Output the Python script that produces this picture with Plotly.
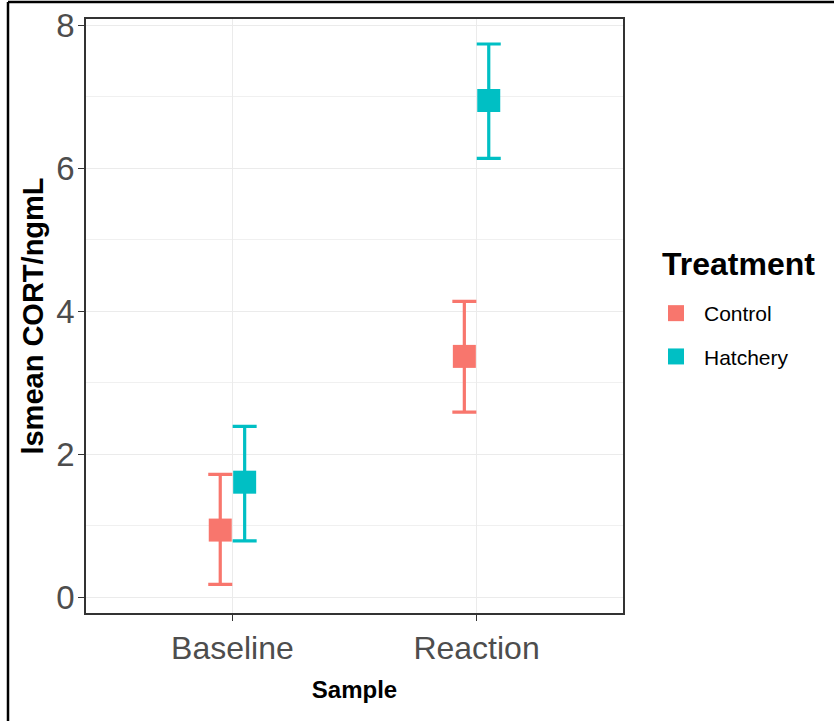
import plotly.graph_objects as go

# Data
samples = ["Baseline", "Reaction"]
treatments = ["Control", "Hatchery"]
lsmean_control = [0.94, 3.37]
lsmean_hatchery = [1.61, 6.95]
upper_control = [1.72, 4.14]
lower_control = [0.18, 2.59]
upper_hatchery = [2.39, 7.74]
lower_hatchery = [0.79, 6.14]
y_ticks = [0, 2, 4, 6, 8]

colors = {"Control": "#F8766D", "Hatchery": "#00BFC4"}
FONT = "Liberation Sans, Arial, sans-serif"
dodge = {"Control": -0.05, "Hatchery": 0.05}

series = {
    "Control": (lsmean_control, upper_control, lower_control),
    "Hatchery": (lsmean_hatchery, upper_hatchery, lower_hatchery),
}

# plot-area geometry (px)
L, R, T, B = 86, 623, 19, 613
W, H = R - L, B - T

def px_x(p):
    return (p - L) / W

def px_y(p):
    return (B - p) / H

fig = go.Figure()
for t in treatments:
    m, up, lo = series[t]
    xs = [i + 1 + dodge[t] for i in range(len(samples))]
    fig.add_trace(go.Scatter(
        x=xs, y=m, mode="markers", name=t, legendgroup=t,
        marker=dict(symbol="square", size=23, color=colors[t]),
        error_y=dict(type="data", symmetric=False,
                     array=[u - v for u, v in zip(up, m)],
                     arrayminus=[v - l for v, l in zip(m, lo)],
                     color=colors[t], thickness=3.2, width=12),
    ))

fig.update_layout(
    width=834, height=721,
    margin=dict(l=L, r=834 - R, t=T, b=721 - B, autoexpand=False),
    paper_bgcolor="white", plot_bgcolor="white",
    font=dict(family=FONT, color="#4D4D4D"),
    showlegend=True,
    legend=dict(
        font=dict(size=21, color="black", family=FONT),
        x=px_x(648), xanchor="left", y=px_y(293), yanchor="top",
        traceorder="grouped", tracegroupgap=13, itemsizing="trace", itemwidth=46,
    ),
)
fig.add_annotation(
    text="<b>Treatment</b>", xref="paper", yref="paper",
    x=px_x(660), y=px_y(264), xanchor="left", yanchor="middle", showarrow=False,
    font=dict(size=32, color="black", family=FONT),
)

fig.update_xaxes(
    range=[0.4, 2.6], tickmode="array", tickvals=[1, 2], ticktext=samples,
    tickfont=dict(size=32, color="#4D4D4D"),
    showgrid=True, gridcolor="#EBEBEB", gridwidth=1.2,
    showline=True, linecolor="#333333", linewidth=1.6, mirror=True,
    ticks="outside", ticklen=6, tickcolor="#333333", tickwidth=1.3,
    zeroline=False, automargin=False,
    title=dict(text="<b>Sample</b>", font=dict(size=24, color="black", family=FONT), standoff=16),
)
fig.update_yaxes(
    range=[-0.22, 8.09], tickmode="array", tickvals=y_ticks,
    tickfont=dict(size=33, color="#4D4D4D"), ticklabelstandoff=-3,
    showgrid=True, gridcolor="#EBEBEB", gridwidth=1.2,
    minor=dict(dtick=1, tick0=0, showgrid=True, gridcolor="#F0F0F0", gridwidth=0.8, ticks=""),
    showline=True, linecolor="#333333", linewidth=1.6, mirror=True,
    ticks="outside", ticklen=6, tickcolor="#333333", tickwidth=1.3,
    zeroline=False, automargin=False,
    title=dict(text="<b>lsmean CORT/ngmL</b>", font=dict(size=29, color="black", family=FONT), standoff=4),
)

# outer frame (left and top edges)
fig.add_shape(type="line", xref="paper", yref="paper",
              x0=px_x(8), x1=px_x(845), y0=px_y(2), y1=px_y(2),
              line=dict(color="black", width=2.5))
fig.add_shape(type="line", xref="paper", yref="paper",
              x0=px_x(8), x1=px_x(8), y0=px_y(2), y1=px_y(730),
              line=dict(color="black", width=2.5))

fig.write_html("out.html", config={"displayModeBar": False},
               post_script="document.body.style.margin='0';")
